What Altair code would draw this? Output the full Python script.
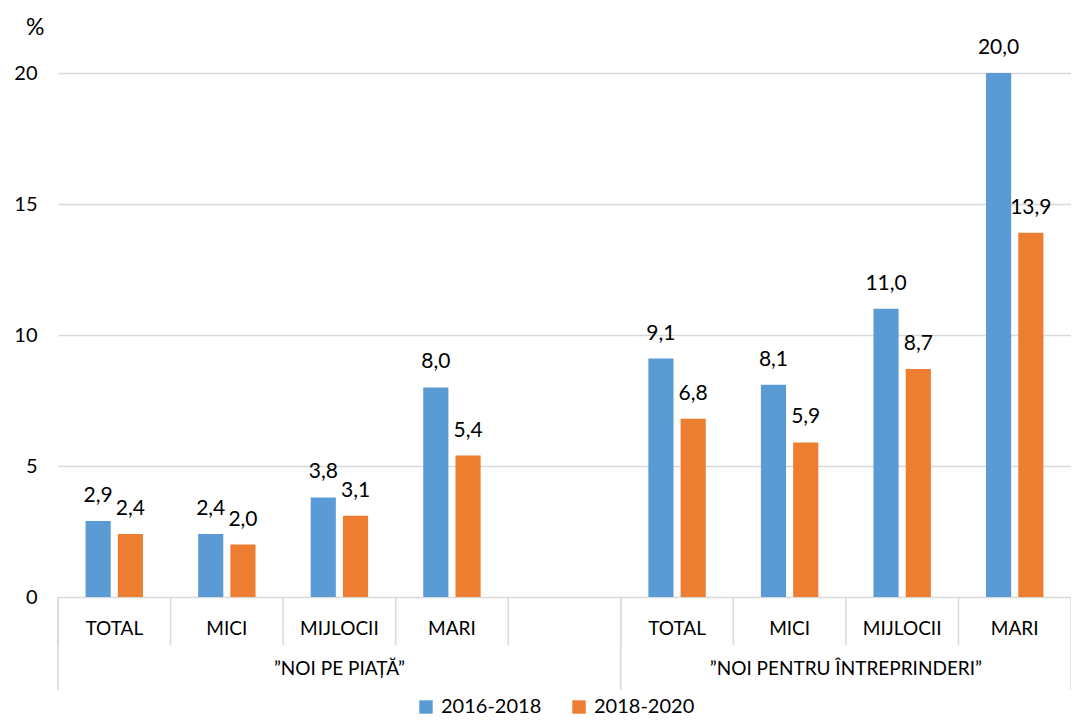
import altair as alt
import pandas as pd

# ---- data ----
categories = ["TOTAL", "MICI", "MIJLOCII", "MARI"]
groups = ["”NOI PE PIAȚĂ”", "”NOI PENTRU ÎNTREPRINDERI”"]
series = ["2016-2018", "2018-2020"]
vals_2016_2018 = [2.9, 2.4, 3.8, 8.0, 9.1, 8.1, 11.0, 20.0]
vals_2018_2020 = [2.4, 2.0, 3.1, 5.4, 6.8, 5.9, 8.7, 13.9]
colors = ["#5B9BD5", "#ED7D31"]
y_ticks = [0, 5, 10, 15, 20]

# slot keys: group 1 categories, an empty slot, group 2 categories
slot_keys = [f"{i}|{c}" for i, c in enumerate(categories)] + ["4|"] + \
            [f"{i + 5}|{c}" for i, c in enumerate(categories)]
bar_slots = slot_keys[:4] + slot_keys[5:]

rows = []
for s, vals in zip(series, [vals_2016_2018, vals_2018_2020]):
    for k, v in zip(bar_slots, vals):
        rows.append({"slot": k, "series": s, "value": v,
                     "label": f"{v:.1f}".replace(".", ",")})
df = pd.DataFrame(rows)

W, H = 1013, 524

x_scale = alt.Scale(domain=slot_keys, paddingInner=0, paddingOuter=0)
x_enc = alt.X("slot:N", scale=x_scale, sort=slot_keys, title=None,
              axis=alt.Axis(labelExpr="split(datum.label, '|')[1]", ticks=False,
                            domain=False, grid=False, labelAngle=0,
                            labelFontSize=19, labelColor="#000000",
                            labelBaseline="middle", labelPadding=31))
xoff = alt.XOffset("series:N", sort=series,
                   scale=alt.Scale(paddingInner=0.22, paddingOuter=0.855))
y_enc = alt.Y("value:Q", scale=alt.Scale(domain=[0, 20], nice=False), title="%",
              axis=alt.Axis(values=y_ticks, domain=False, ticks=False,
                            gridColor="#d9d9d9", gridWidth=1.5,
                            labelFontSize=20, labelColor="#000000", labelPadding=21,
                            titleAngle=0, titleX=-14, titleY=-46, titleAlign="right",
                            titleBaseline="middle", titleFontSize=23,
                            titleFontWeight="normal", titleColor="#000000"))

bars = alt.Chart(df).mark_bar().encode(
    x=x_enc, xOffset=xoff, y=y_enc,
    color=alt.Color("series:N", sort=series,
                    scale=alt.Scale(domain=series, range=colors),
                    legend=alt.Legend(title=None, orient="none", direction="horizontal",
                                      legendX=358, legendY=624,
                                      symbolType="square", symbolSize=180,
                                      symbolStrokeWidth=0,
                                      labelFontSize=20, labelColor="#000000",
                                      labelOffset=5, columnPadding=27)),
)

labels = alt.Chart(df).mark_text(fontSize=21, baseline="alphabetic", dy=-19,
                                 color="#000000").encode(
    x=alt.X("slot:N", scale=x_scale, sort=slot_keys),
    xOffset=xoff, y="value:Q", text="label:N",
)

sep_df = pd.DataFrame({"slot": slot_keys})
short_rules = alt.Chart(sep_df).mark_rule(color="#d9d9d9", strokeWidth=1.5).encode(
    x=alt.X("slot:N", scale=x_scale, sort=slot_keys, bandPosition=0),
    y=alt.value(H), y2=alt.value(H + 48),
)
end_df = pd.DataFrame({"slot": [slot_keys[-1]]})
group_start_df = pd.DataFrame({"slot": [slot_keys[0], slot_keys[5]]})
long_rules_a = alt.Chart(group_start_df).mark_rule(color="#d9d9d9", strokeWidth=1.5).encode(
    x=alt.X("slot:N", scale=x_scale, sort=slot_keys, bandPosition=0),
    y=alt.value(H), y2=alt.value(H + 93),
)
long_rules_b = alt.Chart(end_df).mark_rule(color="#d9d9d9", strokeWidth=1.5).encode(
    x=alt.X("slot:N", scale=x_scale, sort=slot_keys, bandPosition=1),
    y=alt.value(H), y2=alt.value(H + 93),
)

g1 = pd.DataFrame({"slot": [slot_keys[2]], "name": [groups[0]]})
g2 = pd.DataFrame({"slot": [slot_keys[6]], "name": [groups[1]]})
gtext1 = alt.Chart(g1).mark_text(fontSize=19, baseline="middle", color="#000000").encode(
    x=alt.X("slot:N", scale=x_scale, sort=slot_keys, bandPosition=0.5),
    y=alt.value(H + 72), text="name:N",
)
gtext2 = alt.Chart(g2).mark_text(fontSize=19, baseline="middle", color="#000000").encode(
    x=alt.X("slot:N", scale=x_scale, sort=slot_keys, bandPosition=1),
    y=alt.value(H + 72), text="name:N",
)

chart = alt.layer(bars, labels, short_rules, long_rules_a, long_rules_b,
                  gtext1, gtext2).properties(
    width=W, height=H,
    padding={"left": 50, "top": 65, "right": 0, "bottom": 121},
    autosize=alt.AutoSizeParams(type="none"),
).configure(font="Lato").configure_view(stroke=None)

chart.save("out.html", embed_options={"renderer": "svg", "actions": False})
